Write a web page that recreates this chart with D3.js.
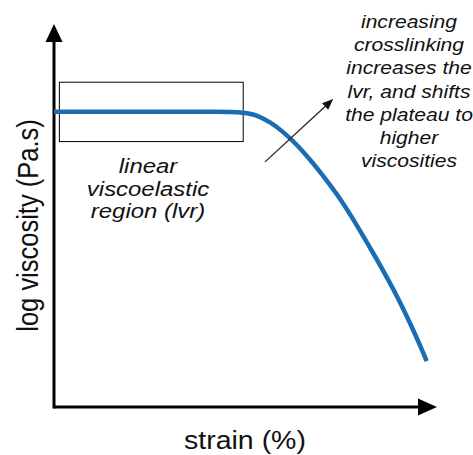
<!DOCTYPE html>
<html>
<head>
<meta charset="utf-8">
<script src="https://cdn.jsdelivr.net/npm/d3@7"></script>
<style>
  html, body { margin: 0; padding: 0; background: #fff; }
  svg { display: block; }
  text { font-family: "Liberation Sans", Arial, sans-serif; fill: #111; }
</style>
</head>
<body>
<svg id="chart" width="473" height="455"></svg>
<script>
// ---- data (arbitrary units) ----
const strain = [0, 25, 42, 46, 49.3, 52.9, 56.4, 59.9, 63.4, 66.8, 70.3, 73.8, 77.3, 82.5, 86.0, 89.5, 92.9, 95.6, 97.3];
const logViscosity = [77.1, 77.1, 77.1, 77.05, 76.85, 76.1, 74.3, 71.7, 68.4, 64.6, 60.3, 55.6, 50.3, 41.6, 35.5, 29.0, 22.0, 16.0, 12.0];
const lvrBox = { x0: 1.4, x1: 49.4, y0: 69.3, y1: 84.8 };
const shiftArrow = { x0: 55.1, y0: 64.0, x1: 72.9, y1: 80.4 };
const xLabel = "strain (%)";
const yLabel = "log viscosity (Pa.s)";
const lvrLines = ["linear", "viscoelastic", "region (lvr)"];
const noteLines = ["increasing", "crosslinking", "increases the", "lvr, and shifts", "the plateau to", "higher", "viscosities"];

const svg = d3.select("#chart");
const x = d3.scaleLinear().domain([0, 100]).range([54, 437]);
const y = d3.scaleLinear().domain([0, 100]).range([407, 24]);
const SX = 1.14; // horizontal stretch of text in the reference

// axes
svg.append("line").attr("x1", x(0)).attr("x2", x(100) - 10).attr("y1", y(0)).attr("y2", y(0))
  .attr("stroke", "#000").attr("stroke-width", 3);
svg.append("line").attr("x1", x(0)).attr("x2", x(0)).attr("y1", y(0) + 1.5).attr("y2", y(100) + 10)
  .attr("stroke", "#000").attr("stroke-width", 3);
svg.append("path").attr("d", `M${x(100)},${y(0)} L${x(100) - 19},${y(0) - 8.5} L${x(100) - 19},${y(0) + 8.5} Z`).attr("fill", "#000");
svg.append("path").attr("d", `M${x(0)},${y(100)} L${x(0) - 8.5},${y(100) + 18} L${x(0) + 8.5},${y(100) + 18} Z`).attr("fill", "#000");

// lvr box
svg.append("rect")
  .attr("x", x(lvrBox.x0)).attr("y", y(lvrBox.y1))
  .attr("width", x(lvrBox.x1) - x(lvrBox.x0)).attr("height", y(lvrBox.y0) - y(lvrBox.y1))
  .attr("fill", "none").attr("stroke", "#000").attr("stroke-width", 1);

// curve
const pts = strain.map((s, i) => [s, logViscosity[i]]);
svg.append("path")
  .attr("d", d3.line().x(d => x(d[0])).y(d => y(d[1])).curve(d3.curveMonotoneX)(pts))
  .attr("fill", "none").attr("stroke", "#1a6db3").attr("stroke-width", 4.5).attr("stroke-linecap", "butt");

// shift arrow
const ax0 = x(shiftArrow.x0), ay0 = y(shiftArrow.y0), ax1 = x(shiftArrow.x1), ay1 = y(shiftArrow.y1);
const ang = Math.atan2(ay1 - ay0, ax1 - ax0);
const hl = 11, hw = 4.5;
const bx = ax1 - hl * Math.cos(ang), by = ay1 - hl * Math.sin(ang);
svg.append("line").attr("x1", ax0).attr("y1", ay0).attr("x2", bx).attr("y2", by)
  .attr("stroke", "#222").attr("stroke-width", 1.3);
svg.append("path")
  .attr("d", `M${ax1},${ay1} L${bx + hw * Math.sin(ang)},${by - hw * Math.cos(ang)} L${bx - hw * Math.sin(ang)},${by + hw * Math.cos(ang)} Z`)
  .attr("fill", "#111");

// axis labels
svg.append("text").attr("transform", `translate(245,449) scale(${SX},1)`)
  .attr("text-anchor", "middle").style("font-size", "25px").text(xLabel);
svg.append("text").attr("transform", `translate(38,225.5) scale(${SX},1) rotate(-90)`)
  .attr("text-anchor", "middle").style("font-size", "25.5px").text(yLabel);

// lvr annotation
svg.append("g").selectAll("text").data(lvrLines).join("text")
  .attr("transform", (d, i) => `translate(148,${173 + i * 22.5}) scale(${SX},1)`)
  .attr("text-anchor", "middle").style("font-size", "21px").style("font-style", "italic").text(d => d);

// crosslinking annotation
svg.append("g").selectAll("text").data(noteLines).join("text")
  .attr("transform", (d, i) => `translate(409,${28 + i * 23.2}) scale(${SX},1)`)
  .attr("text-anchor", "middle").style("font-size", "18.5px").style("font-style", "italic").text(d => d);
</script>
</body>
</html>
